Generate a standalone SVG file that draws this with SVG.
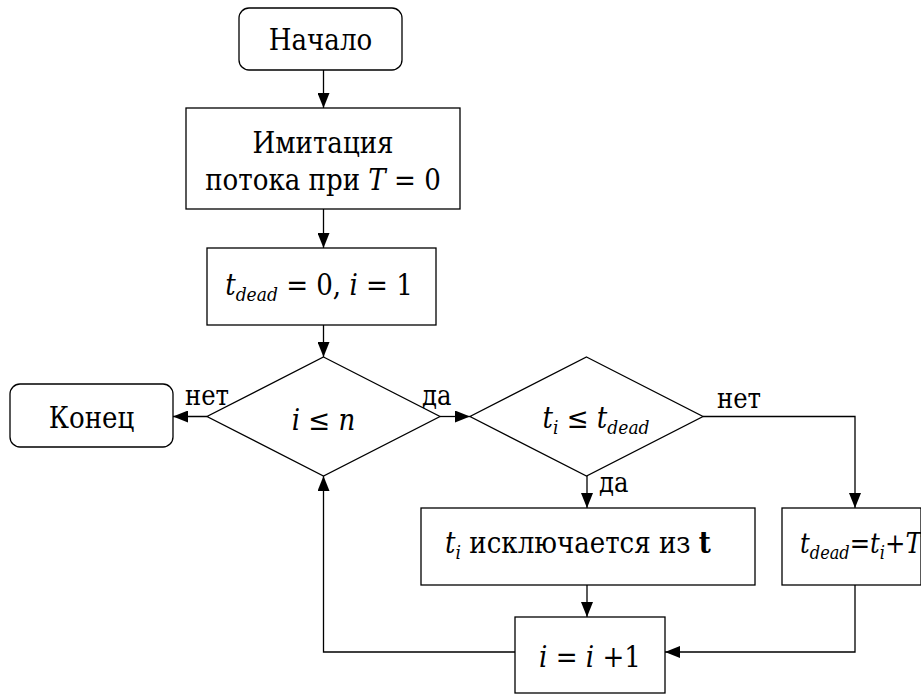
<svg xmlns="http://www.w3.org/2000/svg" width="921" height="695" viewBox="0 0 921 695">
  <style>
    .shape { fill: #ffffff; stroke: #000000; stroke-width: 1.3; }
    .line { fill: none; stroke: #000000; stroke-width: 1.3; }
    text { font-family: "DejaVu Serif Condensed", "DejaVu Serif", serif; font-stretch: condensed; font-size: 29px; fill: #000000; }
    .lbl { font-size: 27px; }
    .it { font-style: italic; }
    .sub { font-style: italic; font-size: 19px; }
    .b { font-weight: bold; }
    .small { font-size: 27px; }
    .small .sub { font-size: 18px; }
  </style>
  <defs>
    <marker id="arrow" markerUnits="userSpaceOnUse" markerWidth="15" markerHeight="12" refX="15" refY="6" orient="auto">
      <path d="M0,0 L15,6 L0,12 Z" fill="#000000"/>
    </marker>
  </defs>

  <rect width="921" height="695" fill="#ffffff"/>

  <!-- connectors -->
  <g id="connectors" marker-end="url(#arrow)">
    <path class="line" d="M323.5,70 V108"/>
    <path class="line" d="M323.5,209 V248"/>
    <path class="line" d="M323.5,325 V357"/>
    <path class="line" d="M207,416.5 H173"/>
    <path class="line" d="M440,416.5 H470"/>
    <path class="line" d="M703,416.5 H855 V508"/>
    <path class="line" d="M587,476 V508"/>
    <path class="line" d="M587,585 V617"/>
    <path class="line" d="M855,585 V652 H665"/>
    <path class="line" d="M515,652 H323.5 V476"/>
  </g>

  <!-- edge labels -->
  <g id="labels">
    <text class="lbl" x="185" y="405">нет</text>
    <text class="lbl" x="422" y="405">да</text>
    <text class="lbl" x="717" y="408">нет</text>
    <text class="lbl" x="599" y="492">да</text>
  </g>

  <g id="start">
    <rect class="shape" x="239" y="8" width="163" height="62" rx="10"/>
    <text x="320.5" y="50" text-anchor="middle">Начало</text>
  </g>

  <g id="simulate">
    <rect class="shape" x="186" y="108" width="274" height="101"/>
    <text x="323" y="153" text-anchor="middle">Имитация</text>
    <text x="323" y="190" text-anchor="middle">потока при <tspan class="it">T</tspan> = 0</text>
  </g>

  <g id="init">
    <rect class="shape" x="207" y="248" width="229" height="77"/>
    <text x="319" y="295" text-anchor="middle"><tspan class="it">t</tspan><tspan class="sub" dy="6">dead</tspan><tspan dy="-6"> = 0,  </tspan><tspan class="it">i</tspan> = 1</text>
  </g>

  <g id="check-i">
    <polygon class="shape" points="323.5,357 440,416.5 323.5,476 207,416.5"/>
    <text x="323.5" y="430" text-anchor="middle"><tspan class="it">i</tspan> ≤ <tspan class="it">n</tspan></text>
  </g>

  <g id="end">
    <rect class="shape" x="10" y="384" width="163" height="63" rx="10"/>
    <text x="91.5" y="428" text-anchor="middle">Конец</text>
  </g>

  <g id="check-t">
    <polygon class="shape" points="586.5,357 703,416.5 586.5,476 470,416.5"/>
    <text x="596" y="428" text-anchor="middle"><tspan class="it">t</tspan><tspan class="sub" dy="6">i</tspan><tspan dy="-6"> ≤ </tspan><tspan class="it">t</tspan><tspan class="sub" dy="6">dead</tspan></text>
  </g>

  <g id="exclude">
    <rect class="shape" x="421" y="508" width="334" height="77"/>
    <text x="578" y="553" text-anchor="middle"><tspan class="it">t</tspan><tspan class="sub" dy="6">i</tspan><tspan dy="-6">  исключается из  </tspan><tspan class="b">t</tspan></text>
  </g>

  <g id="update-dead">
    <rect class="shape" x="782" y="508" width="139" height="77"/>
    <text class="small" x="800" y="553"><tspan class="it">t</tspan><tspan class="sub" dy="6">dead</tspan><tspan dy="-6">=</tspan><tspan class="it">t</tspan><tspan class="sub" dy="6">i</tspan><tspan dy="-6">+</tspan><tspan class="it">T</tspan></text>
  </g>

  <g id="increment">
    <rect class="shape" x="515" y="617" width="150" height="76"/>
    <text x="590" y="667" text-anchor="middle"><tspan class="it">i</tspan> = <tspan class="it">i</tspan> +1</text>
  </g>
</svg>
